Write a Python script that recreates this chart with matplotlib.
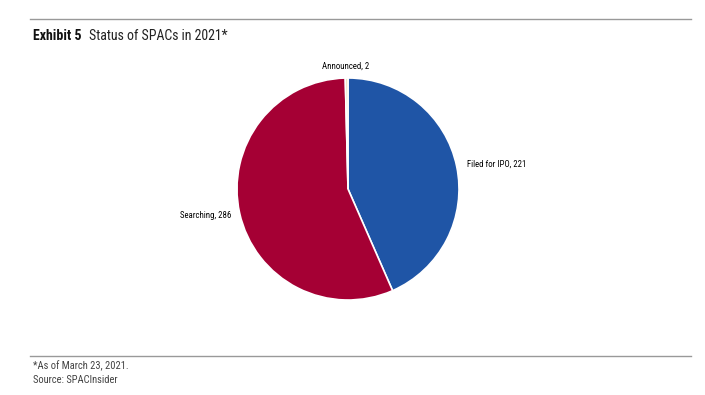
import matplotlib
matplotlib.use("Agg")
import matplotlib.pyplot as plt
from matplotlib.lines import Line2D

categories = ["Filed for IPO", "Searching", "Announced"]
values = [221, 286, 2]
colors = ["#1F55A6", "#A50034", "#F2E2B8"]

plt.rcParams['font.family'] = ['Roboto Condensed', 'DejaVu Sans']

W, H = 705, 395
fig = plt.figure(figsize=(W/100, H/100), dpi=100)

def fx(px): return px / W
def fy(py): return 1 - py / H

# rules
fig.add_artist(Line2D([fx(30), fx(691)], [fy(19), fy(19)], color="#999999", lw=1))
fig.add_artist(Line2D([fx(30), fx(691)], [fy(356), fy(356)], color="#999999", lw=1))

fig.text(fx(33), fy(36), "Exhibit 5", fontsize=10, fontweight="bold", va="center", ha="left", color="#111111")
fig.text(fx(89), fy(36), "Status of SPACs in 2021*", fontsize=10, va="center", ha="left", color="#222222")

fig.text(fx(33), fy(366), "*As of March 23, 2021.", fontsize=7.6, va="center", ha="left", color="#444444")
fig.text(fx(33), fy(380), "Source: SPACInsider", fontsize=7.6, va="center", ha="left", color="#444444")

cx, cy, r = 348, 189, 111
ax = fig.add_axes([fx(cx - r), fy(cy + r), (2*r)/W, (2*r)/H])
wedges, _ = ax.pie(values, colors=colors, startangle=90, counterclock=False,
                   wedgeprops=dict(edgecolor="white", linewidth=1.2))
ax.set_xlim(-1, 1)
ax.set_ylim(-1, 1)
ax.set_aspect("auto")
ax.axis("off")

labels = [f"{c}, {v}" for c, v in zip(categories, values)]
fig.text(fx(467), fy(164), labels[0], fontsize=6.3, ha="left", va="center")
fig.text(fx(231), fy(216), labels[1], fontsize=6.3, ha="right", va="center")
fig.text(fx(346), fy(66), labels[2], fontsize=6.3, ha="center", va="center")

fig.savefig("out.png", dpi=100)
